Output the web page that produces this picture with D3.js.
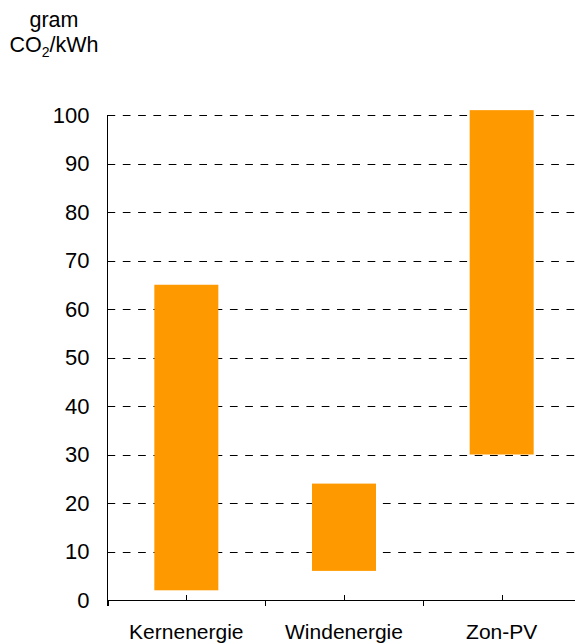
<!DOCTYPE html>
<html>
<head>
<meta charset="utf-8">
<script src="https://cdn.jsdelivr.net/npm/d3@7"></script>
<style>
  html, body { margin: 0; padding: 0; background: #fff; }
  svg { display: block; }
  text { font-family: "Liberation Sans", Arial, sans-serif; fill: #000; }
</style>
</head>
<body>
<svg id="chart" width="575" height="644"></svg>
<script>
const categories = ["Kernenergie", "Windenergie", "Zon-PV"];
const lowValues = [2, 6, 30];
const highValues = [65, 24, 101];
const yTicks = [0, 10, 20, 30, 40, 50, 60, 70, 80, 90, 100];
const unitLine1 = "gram";

const svg = d3.select("#chart");
const W = 575;
const x0 = 107.5, x1 = 580.5, yTop = 115, yBottom = 600;

const x = d3.scaleBand().domain(categories).range([x0, x1]).paddingInner(0).paddingOuter(0);
const y = d3.scaleLinear().domain([0, 100]).range([yBottom, yTop]);
const barW = 64;

// gridlines
svg.append("g").selectAll("line").data(yTicks.filter(d => d > 0)).join("line")
  .attr("x1", x0).attr("x2", W)
  .attr("y1", d => Math.round(y(d)) + 0.5).attr("y2", d => Math.round(y(d)) + 0.5)
  .attr("stroke", "#000").attr("stroke-width", 1.1)
  .attr("stroke-dasharray", "7.7,7.6");

// bars
svg.append("g").selectAll("rect").data(categories).join("rect")
  .attr("x", d => x(d) + x.bandwidth() / 2 - barW / 2)
  .attr("width", barW)
  .attr("y", (d, i) => y(highValues[i]))
  .attr("height", (d, i) => y(lowValues[i]) - y(highValues[i]))
  .attr("fill", "#ff9900");

// y axis
const yAxis = d3.axisLeft(y).tickValues(yTicks).tickSize(0).tickPadding(18);
const gy = svg.append("g").attr("transform", `translate(${x0},0)`).call(yAxis);
gy.select(".domain").remove();
gy.selectAll("text").style("font-size", "22px").attr("font-family", null);
svg.append("line").attr("x1", x0).attr("x2", x0).attr("y1", yTop).attr("y2", yBottom + 6)
  .attr("stroke", "#000").attr("stroke-width", 1);

// x axis
svg.append("line").attr("x1", x0).attr("x2", W).attr("y1", yBottom + 0.5).attr("y2", yBottom + 0.5)
  .attr("stroke", "#000").attr("stroke-width", 1);
const bounds = categories.map(c => x(c)).concat([x1]);
svg.append("g").selectAll("line").data(bounds).join("line")
  .attr("x1", d => Math.round(d) + 0.5).attr("x2", d => Math.round(d) + 0.5)
  .attr("y1", yBottom).attr("y2", yBottom + 6)
  .attr("stroke", "#000");
svg.append("g").selectAll("line").data(categories).join("line")
  .attr("x1", d => Math.round(x(d) + x.bandwidth() / 2) + 0.5)
  .attr("x2", d => Math.round(x(d) + x.bandwidth() / 2) + 0.5)
  .attr("y1", yBottom - 5).attr("y2", yBottom)
  .attr("stroke", "#000");
svg.append("g").selectAll("text").data(categories).join("text")
  .attr("x", d => x(d) + x.bandwidth() / 2)
  .attr("y", 639)
  .attr("text-anchor", "middle")
  .style("font-size", "21px")
  .text(d => d);

// unit label
svg.append("text").attr("x", 54).attr("y", 27).attr("text-anchor", "middle")
  .style("font-size", "21.5px").text(unitLine1);
const t2 = svg.append("text").attr("x", 54).attr("y", 52).attr("text-anchor", "middle")
  .style("font-size", "21.5px");
t2.append("tspan").text("CO");
t2.append("tspan").attr("dy", 5).style("font-size", "14px").text("2");
t2.append("tspan").attr("dy", -5).text("/kWh");
</script>
</body>
</html>
